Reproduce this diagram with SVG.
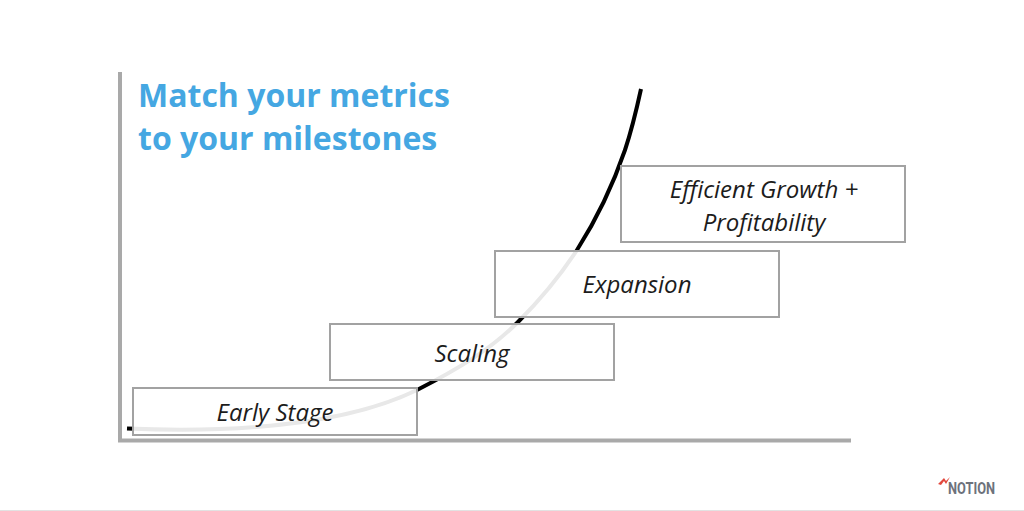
<svg xmlns="http://www.w3.org/2000/svg" width="1024" height="511" viewBox="0 0 1024 511">
<style>
.box{fill:#fff;fill-opacity:.91;stroke:#a2a2a2;stroke-width:2}
.lbl{font-family:"Open Sans",sans-serif;font-style:italic;font-size:24px;fill:#1c1c1c;text-anchor:middle}
.ttl{font-family:"Open Sans",sans-serif;font-weight:700;font-size:32px;fill:#45a7e2}
.axis{fill:none;stroke:#a9a9a9;stroke-width:4}
</style>
<rect width="1024" height="511" fill="#fff"/>
<rect y="510" width="1024" height="1" fill="#e2e2e2"/>
<g id="connectors">
<path class="axis" d="M120 72V440.500H851"/>
<path d="M127 428.500C235 433 345 425 417 390C458 369 490 350 518 322C541 299 560 276 577 250C598 217 613 185 625 150C631 132 636 112 641 89" fill="none" stroke="#000" stroke-width="4"/>
</g>
<g id="node-early"><rect class="box" x="133" y="388" width="284" height="47"/><text class="lbl" x="275" y="421">Early Stage</text></g>
<g id="node-scaling"><rect class="box" x="330" y="324" width="284" height="56"/><text class="lbl" x="472" y="362">Scaling</text></g>
<g id="node-expansion"><rect class="box" x="495" y="251" width="284" height="66"/><text class="lbl" x="637" y="293">Expansion</text></g>
<g id="node-efficient"><rect class="box" x="621" y="166" width="284" height="76"/><text class="lbl" x="764" y="198">Efficient Growth +</text><text class="lbl" x="764" y="231">Profitability</text></g>
<g id="title"><text class="ttl" x="138" y="107">Match your metrics</text><text class="ttl" x="138" y="150">to your milestones</text></g>
<g id="logo"><path d="M938 484L944 478L946 481L950 477L946 484L944 481L941 485Z" fill="#e2483d"/><text x="948" y="494" font-family="Roboto,sans-serif" font-weight="700" font-size="16.500" fill="#6d727c" textLength="47" lengthAdjust="spacingAndGlyphs">NOTION</text></g>
</svg>
